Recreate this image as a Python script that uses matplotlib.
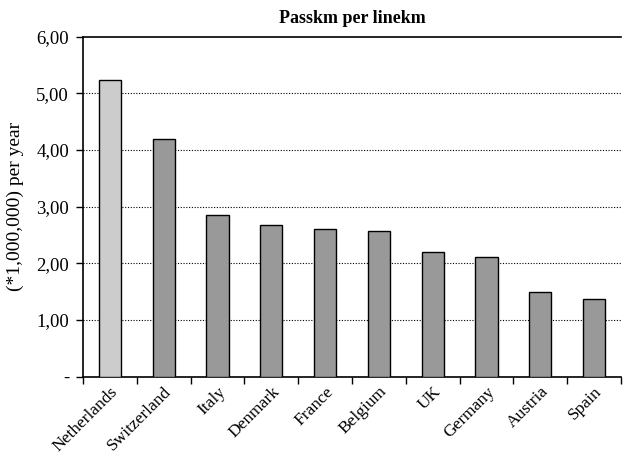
import matplotlib
matplotlib.use("Agg")
import matplotlib.pyplot as plt
from matplotlib.ticker import FixedLocator

countries = ["Netherlands", "Switzerland", "Italy", "Denmark", "France",
             "Belgium", "UK", "Germany", "Austria", "Spain"]
values = [5.24, 4.19, 2.85, 2.67, 2.61, 2.58, 2.20, 2.12, 1.49, 1.37]
yticks = [0, 1, 2, 3, 4, 5, 6]
ytick_labels = ["-", "1,00", "2,00", "3,00", "4,00", "5,00", "6,00"]

plt.rcParams['font.family'] = ['Liberation Serif', 'DejaVu Serif']

fig = plt.figure(figsize=(6.23, 4.57), dpi=100)
ax = fig.add_axes([83/623, (457-376.7)/457, (621-83)/623, (376.7-36.7)/457])

colors = ["#cccccc"] + ["#999999"] * (len(countries) - 1)
x = list(range(len(countries)))
ax.bar(x, values, width=0.41, color=colors, edgecolor="black", linewidth=1.0, zorder=3)

ax.set_xlim(-0.5, len(countries) - 0.5)
ax.set_ylim(0, 6)
ax.set_yticks(yticks)
ax.set_yticklabels(ytick_labels, fontsize=13.5)
for y in yticks[1:-1]:
    ax.axhline(y, color="black", linestyle=(0, (1, 1.5)), linewidth=0.8, zorder=1)

ax.set_xticks(x)
ax.set_xticklabels(countries, rotation=45, ha="right", rotation_mode="anchor", fontsize=12.5)
ax.tick_params(axis="x", which="major", length=0, pad=5)
ax.xaxis.set_minor_locator(FixedLocator([i - 0.5 for i in range(len(countries) + 1)]))
ax.tick_params(axis="x", which="minor", length=5, width=1, direction="out")
ax.tick_params(axis="y", length=5, width=1, direction="out", pad=5)

ax.spines["right"].set_visible(False)
for s in ["left", "top", "bottom"]:
    ax.spines[s].set_linewidth(1.2)
    ax.spines[s].set_color("black")

ax.set_ylabel("(*1,000,000) per year", fontsize=14)
ax.yaxis.set_label_coords(-(83 - 24) / 538, 0.5)
ax.set_title("Passkm per linekm", fontsize=13, fontweight="bold", pad=10)

fig.savefig("out.png", dpi=100)
